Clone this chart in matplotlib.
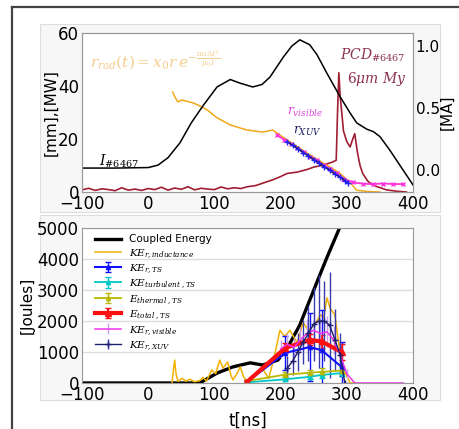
import matplotlib
matplotlib.use("Agg")
import matplotlib.pyplot as plt
from matplotlib.patches import Rectangle
from matplotlib.lines import Line2D

plt.rcParams["mathtext.fontset"] = "dejavuserif"

# ---- top panel data ----
t_I = [-100, -50, 0, 15, 30, 48, 65, 83, 104, 124, 139, 158, 172, 184, 204,
       217, 229, 244, 255, 270, 290, 305, 315, 330, 340, 350, 365, 380, 400]
I_MA = [0.016, 0.016, 0.02, 0.04, 0.10, 0.22, 0.38, 0.52, 0.67, 0.73, 0.70,
        0.67, 0.69, 0.75, 0.91, 1.00, 1.05, 1.01, 0.93, 0.78, 0.59, 0.46,
        0.38, 0.33, 0.31, 0.27, 0.16, 0.04, -0.12]

t_rad = [37, 41, 45, 50, 56, 62, 68, 78, 89, 104, 124, 149, 173, 188, 200,
         220, 240, 260, 275, 290, 305, 315, 330, 350]
r_rad = [37.7, 35.5, 34.0, 34.7, 34.4, 34.0, 33.6, 32.5, 31.0, 28.0, 25.3,
         23.4, 22.6, 23.4, 21.3, 18.0, 14.7, 11.6, 9.3, 7.0, 3.5, 0.7, 0.2,
         0.0]

t_vis = [195, 205, 215, 225, 235, 245, 255, 265, 275, 285, 295, 310, 325,
         340, 355, 370, 385]
r_vis = [21.5, 19.8, 18.3, 16.5, 15.1, 13.3, 11.9, 10.1, 8.7, 7.0, 5.0, 3.6,
         3.1, 3.0, 3.2, 3.0, 3.0]

t_xuv = [210, 218, 226, 234, 242, 250, 258, 266, 274, 282, 290, 298, 302]
r_xuv = [19.0, 17.6, 16.4, 14.9, 13.7, 12.2, 11.0, 9.5, 8.3, 6.8, 5.6, 4.1, 3.4]

t_pcd = [-100, -90, -80, -70, -60, -50, -40, -30, -20, -10, 0, 10, 20, 30, 40,
         50, 60, 70, 80, 90, 100, 110, 120, 130, 140, 150, 162, 175, 187, 199,
         210, 225, 240, 250, 262, 275, 280, 284, 286, 288, 290, 292, 295, 300,
         305, 309, 312, 316, 320, 324, 332, 340, 346, 360, 375, 390]
pcd = [0.8, 1.4, 0.6, 1.2, 0.9, 0.5, 1.6, 0.7, 1.1, 0.6, 1.3, 0.9, 1.8, 0.7,
       1.5, 1.0, 2.0, 0.8, 1.4, 1.1, 0.9, 1.9, 1.2, 1.6, 1.3, 2.0, 2.4, 3.5,
       4.5, 5.7, 7.0, 7.5, 8.5, 9.4, 10.0, 11.0, 11.5, 12.0, 30.0, 45.0, 36.0,
       31.0, 23.0, 19.0, 17.0, 20.0, 22.0, 15.0, 10.0, 7.0, 4.0, 2.5, 2.0, 0.8,
       0.3, 0.0]

# ---- bottom panel data ----
t_ce = [-100, 0, 78, 104, 128, 154, 173, 196, 211, 229, 255, 270, 292]
E_ce = [0, 0, 0, 320, 520, 650, 580, 740, 1160, 1870, 3260, 4050, 5150]

t_ind = [36, 38, 40, 42, 45, 51, 57, 63, 70, 78, 83, 88, 96, 102, 108, 113,
         120, 125, 128, 134, 139, 144, 150, 160, 173, 182, 190, 199, 206, 214,
         225, 234, 242, 249, 255, 260, 265, 270, 275, 282, 290, 297, 305, 315]
E_ind = [0, 400, 740, 300, 50, 150, 60, 120, 40, 80, 180, 60, 420, 300, 740,
         480, 680, 250, 100, 300, 520, 200, 30, 200, 450, 150, 800, 1700, 1500,
         1700, 1300, 1950, 1700, 1850, 2000, 2200, 2100, 2750, 2400, 2200, 900,
         350, 0, 0]

t_ts = [149, 207, 244, 262, 292]
E_tot = [30, 1130, 1390, 1340, 1000]
E_tot_err = [60, 150, 180, 200, 250]
KE_ts = [30, 970, 1160, 1060, 520]
KE_ts_err = [60, 550, 1100, 1300, 800]
KE_turb = [20, 120, 200, 260, 320]
KE_turb_err = [30, 60, 80, 90, 100]
E_th = [60, 270, 330, 360, 400]
E_th_err = [40, 80, 100, 110, 120]

t_vis2 = [200, 210, 220, 230, 240, 250, 260, 270, 280, 290, 300, 312, 330,
          350, 370, 385]
KE_vis = [1100, 1250, 1150, 1400, 1600, 1700, 1600, 1650, 1400, 900, 300, 0,
          0, 0, 0, 0]
KE_vis_err = [300, 350, 300, 400, 450, 600, 500, 500, 450, 350, 150, 0, 0, 0,
              0, 0]

t_xuv2 = [210, 218, 226, 234, 242, 250, 258, 266, 274, 282, 290, 297]
KE_xuv = [480, 700, 1000, 1320, 1600, 1900, 2000, 2000, 1870, 1400, 900, 0]
KE_xuv_err = [400, 450, 600, 700, 900, 1200, 1500, 1300, 1700, 1000, 700, 0]

fig = plt.figure(figsize=(4.59, 4.29), dpi=100)
W, H = 459, 429

def fr(x0, y0, x1, y1):
    return [x0 / W, 1 - y1 / H, (x1 - x0) / W, (y1 - y0) / H]

# outer frame and light panels behind the axes
fig.add_artist(Line2D([12 / W, 12 / W], [0, 1 - 7 / H], color="#444444", lw=1.6))
fig.add_artist(Line2D([12 / W, 1], [1 - 7 / H, 1 - 7 / H], color="#444444", lw=1.6))
for box in [(40, 24, 440, 212), (40, 215, 440, 400)]:
    b = fr(*box)
    fig.add_artist(Rectangle((b[0], b[1]), b[2], b[3], facecolor="#f7f7f7",
                             edgecolor="#dddddd", lw=0.8, zorder=-5))

ax1 = fig.add_axes(fr(82, 33, 413, 192))
ax2 = ax1.twinx()
ax3 = fig.add_axes(fr(82, 228, 413, 383))

for a in (ax1, ax2, ax3):
    for s in a.spines.values():
        s.set_color("#999999")

# top panel
ax1.plot(t_pcd, pcd, color="#a01e32", lw=1.2)
ax1.plot(t_rad, r_rad, color="#f0a818", lw=1.1)
ax1.plot(t_vis, r_vis, color="#ff33dd", lw=1.3, marker="x", ms=3)
ax1.plot(t_xuv, r_xuv, color="#1a1a80", lw=1.3, marker="+", ms=5, mec="#2222ff")
ax2.plot(t_I, I_MA, color="black", lw=1.1)

ax1.set_xlim(-100, 400)
ax1.set_ylim(0, 60)
ax2.set_ylim(-0.177, 1.105)
ax1.set_yticks([0, 20, 40, 60])
ax2.set_yticks([0.0, 0.5, 1.0])
ax1.set_xticks([-100, 0, 100, 200, 300, 400])
ax1.tick_params(labelsize=12, length=0, pad=2)
ax2.tick_params(labelsize=11, length=0, pad=2)
ax1.set_ylabel("[mm],[MW]", fontsize=11, labelpad=0)
ax2.set_ylabel("[MA]", fontsize=11, labelpad=0)

ax1.text(-88, 47, r"$r_{rad}(t)=x_{0}r\,e^{-\frac{\pi a\Delta I^2}{\mu_0 I}}$",
         color="#f2c070", fontsize=11, alpha=0.8)
ax1.text(290, 50, r"$PCD_{\#6467}$", color="#8a3050", fontsize=10)
ax1.text(300, 41, r"$6\mu m\ My$", color="#8a3050", fontsize=10)
ax1.text(210, 29, r"$r_{visible}$", color="#dd44dd", fontsize=9)
ax1.text(218, 22, r"$r_{XUV}$", color="#1a1a60", fontsize=9)
ax1.text(-75, 10, r"$I_{\#6467}$", color="black", fontsize=10)

# bottom panel
ax3.grid(axis="y", color="#dddddd", lw=1)
ax3.set_axisbelow(True)
h_ce, = ax3.plot(t_ce, E_ce, color="black", lw=2.4, label="Coupled Energy")
h_ind, = ax3.plot(t_ind, E_ind, color="#f2b000", lw=1.1,
                  label=r"$KE_{r,inductance}$")
h_ts = ax3.errorbar(t_ts, KE_ts, yerr=KE_ts_err, color="#1010ff", lw=1.5,
                    marker="^", ms=3, capsize=2, elinewidth=1,
                    label=r"$KE_{r,TS}$")
h_turb = ax3.errorbar(t_ts, KE_turb, yerr=KE_turb_err, color="#00c8c8", lw=1.3,
                      marker="^", ms=3, capsize=2, elinewidth=1,
                      label=r"$KE_{turbulent\ ,TS}$")
h_th = ax3.errorbar(t_ts, E_th, yerr=E_th_err, color="#b8b800", lw=1.3,
                    marker="^", ms=3, capsize=2, elinewidth=1,
                    label=r"$E_{thermal\ ,TS}$")
h_tot = ax3.errorbar(t_ts, E_tot, yerr=E_tot_err, color="#ff1010", lw=3,
                     marker="^", ms=4, capsize=2, elinewidth=1.5,
                     label=r"$E_{total\ ,TS}$")
h_vis = ax3.errorbar(t_vis2, KE_vis, yerr=KE_vis_err, color="#ee33ee", lw=1.1,
                     ecolor="#c8a0ee", elinewidth=1, capsize=0,
                     label=r"$KE_{r,visible}$")
h_xuv = ax3.errorbar(t_xuv2, KE_xuv, yerr=KE_xuv_err, color="#202070", lw=1.0,
                     ecolor="#3a3ab0", elinewidth=1, marker="+", ms=4,
                     label=r"$KE_{r,XUV}$")

ax3.set_xlim(-100, 400)
ax3.set_ylim(0, 5000)
ax3.set_xticks([-100, 0, 100, 200, 300, 400])
ax3.set_yticks([0, 1000, 2000, 3000, 4000, 5000])
ax3.tick_params(labelsize=12, length=0, pad=2)
ax3.set_ylabel("[Joules]", fontsize=11, labelpad=2)
ax3.set_xlabel("t[ns]", fontsize=12, labelpad=6)

ax3.legend(handles=[h_ce, h_ind, h_ts, h_turb, h_th, h_tot, h_vis, h_xuv],
           loc="upper left", frameon=False, fontsize=7.5, handlelength=2.5,
           labelspacing=0.25, borderaxespad=0.2, bbox_to_anchor=(0.02, 1.0))

plt.savefig("out.png", dpi=100)
